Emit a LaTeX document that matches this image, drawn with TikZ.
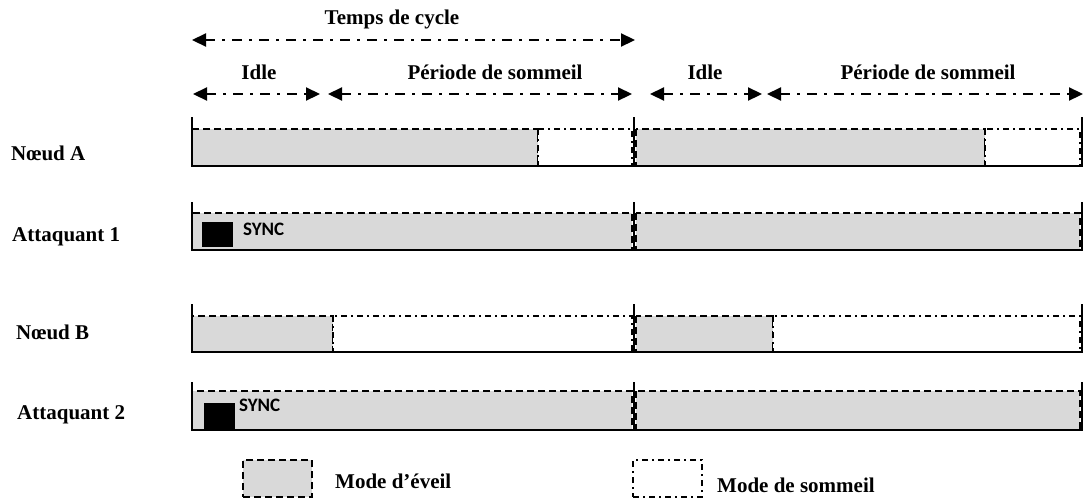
\documentclass[tikz,border=0pt]{standalone}
\usepackage{fontspec}
\setmainfont{Liberation Serif}
\newfontfamily\syncfont{Carlito}
\usetikzlibrary{arrows.meta, positioning}

\begin{document}
\begin{tikzpicture}
[x=1pt, y=-1pt,
lbl/.style={font=\bfseries\fontsize{21}{24}\selectfont, inner sep=0pt},
awake/.style={draw=black, fill=black!15, line width=1.3pt, dash pattern=on 7pt off 4pt},
asleep/.style={draw=black, fill=white, line width=1.3pt, dash pattern=on 6pt off 4pt on 2pt off 4pt},
axis/.style={draw=black, line width=1.6pt},
span/.style={{Triangle[length=14pt,width=13pt]}-{Triangle[length=14pt,width=13pt]}, line width=2.2pt, dash pattern=on 10pt off 7pt on 3pt off 7pt},
syncmark/.style={fill=black, draw=none, inner sep=0pt, anchor=north west},
synclbl/.style={font=\syncfont\bfseries\fontsize{19}{22}\selectfont, inner sep=0pt, anchor=west},
]
\useasboundingbox (0,0) rectangle (1084,499);

% cycle and phase spans
\coordinate (cyc0) at (192,40);  \coordinate (cyc1) at (635,40);
\coordinate (idl0) at (193,94);  \coordinate (idl1) at (320,94);
\coordinate (slp0) at (328,94);  \coordinate (slp1) at (632,94);
\coordinate (idl2) at (650,94);  \coordinate (idl3) at (762,94);
\coordinate (slp2) at (767,94);  \coordinate (slp3) at (1083,94);
\draw[span] (cyc0) -- (cyc1);
\draw[span] (idl0) -- (idl1);
\draw[span] (slp0) -- (slp1);
\draw[span] (idl2) -- (idl3);
\draw[span] (slp2) -- (slp3);
\node[lbl] (cycle) at (392,19) {Temps de cycle};
\node[lbl] (idleA) at (259,72) {Idle};
\node[lbl] (sleepA) at (495,72) {Période de sommeil};
\node[lbl] (idleB) at (705,72) {Idle};
\node[lbl] (sleepB) at (928,72) {Période de sommeil};

% row labels
\node[lbl, anchor=west] (nodeA) at (11,153) {Nœud A};
\node[lbl, anchor=west] (att1) at (12,237) {Attaquant 1};
\node[lbl, anchor=west] (nodeB) at (16,332) {Nœud B};
\node[lbl, anchor=west] (att2) at (17,415) {Attaquant 2};

% Noeud A
\draw[awake] (192,129) rectangle (538,166);
\draw[asleep] (538,129) rectangle (632,166);
\draw[awake] (636,129) rectangle (985,166);
\draw[asleep] (985,129) rectangle (1080,166);
\draw[axis] (192,117) -- (192,166) -- (1082,166) -- (1082,117);
\draw[axis] (634,117) -- (634,166);

% Attaquant 1
\draw[awake] (192,213) rectangle (632,250);
\draw[awake] (636,213) rectangle (1080,250);
\draw[axis] (192,202) -- (192,250) -- (1082,250) -- (1082,202);
\draw[axis] (634,202) -- (634,250);
\node[syncmark, minimum width=31pt, minimum height=25pt] (sync1) at (202,222) {};
\node[synclbl] (synctxt1) at (243,229) {SYNC};

% Noeud B
\draw[awake] (192,316) rectangle (333,352);
\draw[asleep] (333,316) rectangle (632,352);
\draw[awake] (636,316) rectangle (773,352);
\draw[asleep] (773,316) rectangle (1080,352);
\draw[axis] (192,304) -- (192,352) -- (1082,352) -- (1082,304);
\draw[axis] (634,304) -- (634,352);

% Attaquant 2
\draw[awake] (192,391) rectangle (632,430);
\draw[awake] (636,391) rectangle (1080,430);
\draw[axis] (192,382) -- (192,430) -- (1082,430) -- (1082,382);
\draw[axis] (634,382) -- (634,430);
\node[syncmark, minimum width=31pt, minimum height=27pt] (sync2) at (204,403) {};
\node[synclbl] (synctxt2) at (239,405) {SYNC};

% legend
\node[awake, minimum width=69pt, minimum height=37pt, inner sep=0pt] (keyAwake) at (277.5,478.5) {};
\node[lbl, anchor=west] (keyAwakeTxt) at (335,481) {Mode d’éveil};
\node[asleep, minimum width=69pt, minimum height=37pt, inner sep=0pt] (keySleep) at (667.5,478.5) {};
\node[lbl, anchor=west] (keySleepTxt) at (717,485) {Mode de sommeil};
\end{tikzpicture}
\end{document}
